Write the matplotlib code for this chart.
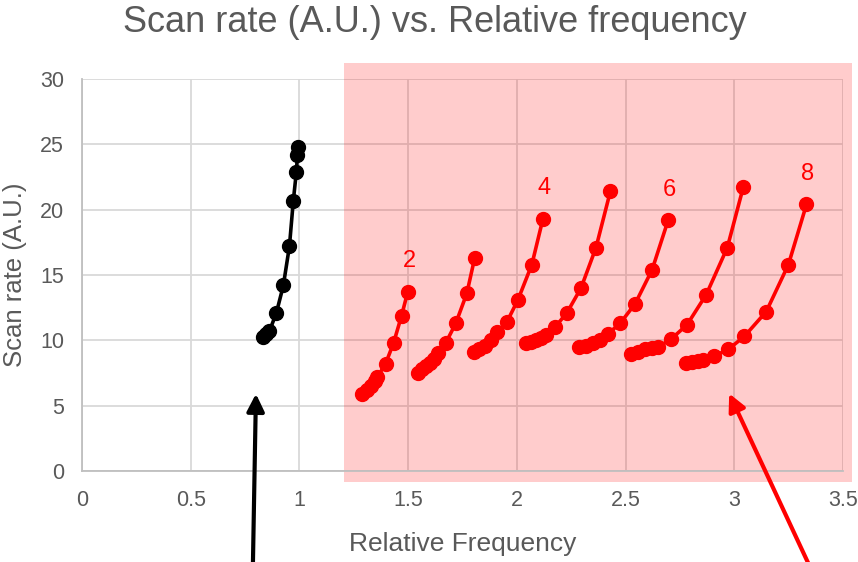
import numpy as np
from matplotlib import pyplot as plt
from matplotlib.patches import Rectangle

# fundamental (black)
f1 = [0.834, 0.848, 0.862, 0.894, 0.926, 0.954, 0.972, 0.986, 0.991, 0.993]
s1 = [10.25, 10.5, 10.7, 12.1, 14.2, 17.2, 20.7, 22.9, 24.2, 24.8]

# harmonics 2..8 (red)
f2 = [1.290, 1.309, 1.327, 1.346, 1.359, 1.396, 1.433, 1.470, 1.498]
s2 = [5.9, 6.2, 6.5, 6.9, 7.2, 8.2, 9.8, 11.9, 13.7]
f3 = [1.544, 1.562, 1.581, 1.599, 1.618, 1.636, 1.673, 1.719, 1.770, 1.806]
s3 = [7.5, 7.8, 8.0, 8.3, 8.6, 9.0, 9.8, 11.3, 13.6, 16.3]
f4 = [1.802, 1.825, 1.852, 1.880, 1.908, 1.954, 2.005, 2.069, 2.120]
s4 = [9.1, 9.3, 9.6, 10.0, 10.6, 11.4, 13.1, 15.8, 19.3]
f5 = [2.041, 2.065, 2.088, 2.111, 2.134, 2.175, 2.230, 2.295, 2.364, 2.430]
s5 = [9.8, 9.9, 10.0, 10.2, 10.4, 11.0, 12.1, 14.0, 17.1, 21.4]
f6 = [2.286, 2.318, 2.350, 2.382, 2.419, 2.475, 2.544, 2.622, 2.696]
s6 = [9.5, 9.6, 9.8, 10.0, 10.5, 11.3, 12.8, 15.4, 19.2]
f7 = [2.525, 2.558, 2.590, 2.622, 2.650, 2.710, 2.783, 2.871, 2.968, 3.041]
s7 = [8.95, 9.1, 9.3, 9.4, 9.5, 10.1, 11.2, 13.5, 17.1, 21.7]
f8 = [2.779, 2.806, 2.834, 2.857, 2.908, 2.972, 3.046, 3.147, 3.249, 3.332]
s8 = [8.3, 8.35, 8.4, 8.5, 8.8, 9.3, 10.3, 12.2, 15.8, 20.4]

red_f = [f2, f3, f4, f5, f6, f7, f8]
red_s = [s2, s3, s4, s5, s6, s7, s8]
harmonic = [2, 3, 4, 5, 6, 7, 8]
labelled = [2, 4, 6, 8]

grey = '#595959'
plt.rcParams['font.family'] = ['Liberation Sans', 'DejaVu Sans']

fig = plt.figure(figsize=(8.58, 5.62), dpi=100)
ax = fig.add_axes([82/858, 1-471/562, (843-82)/858, (471-79)/562])

ax.set_xlim(0, 3.5)
ax.set_ylim(0, 30)
ax.set_xticks(np.arange(0, 3.51, 0.5))
ax.set_xticklabels(['0', '0.5', '1', '1.5', '2', '2.5', '3', '3.5'])
ax.set_yticks(range(0, 31, 5))
ax.grid(True, color='#d9d9d9', linewidth=1.3, zorder=0)
ax.set_axisbelow(True)
for s in ['top', 'right']:
    ax.spines[s].set_visible(False)
for s in ['left', 'bottom']:
    ax.spines[s].set_color('#bfbfbf')
    ax.spines[s].set_linewidth(1.3)
ax.tick_params(length=0, labelsize=15.5, colors=grey)
ax.tick_params(axis='x', pad=14)
ax.tick_params(axis='y', pad=13)

# shaded harmonic region (extends past plot area)
ax.add_patch(Rectangle((1.207, -0.85), 3.54-1.207, 31.2+0.85, facecolor='red',
                       alpha=0.2, edgecolor='none', clip_on=False, zorder=1))

ax.plot(f1, s1, '-o', color='black', lw=2.6, ms=10, zorder=3, clip_on=False)
for f, s, n in zip(red_f, red_s, harmonic):
    ax.plot(f, s, '-o', color='red', lw=2.6, ms=10, zorder=3)
    if n in labelled:
        ax.annotate(str(n), (f[-1], s[-1]), xytext=(1, 22), textcoords='offset points',
                    ha='center', va='center', color='red', fontsize=17)

ax.set_xlabel('Relative Frequency', fontsize=19, color=grey, labelpad=15)
ax.set_ylabel('Scan rate (A.U.)', fontsize=18.5, color=grey, labelpad=9)
fig.text(0.507, 1-23/562, 'Scan rate (A.U.) vs. Relative frequency',
         ha='center', va='center', fontsize=26, color=grey)

# arrows from below the figure
ax.annotate('', xy=(256, 562-391), xycoords='figure pixels',
            xytext=(252.6, -20), textcoords='figure pixels', annotation_clip=False,
            arrowprops=dict(arrowstyle='-|>', color='black', lw=3, mutation_scale=26))
ax.annotate('', xy=(728, 562-391), xycoords='figure pixels',
            xytext=(817, -20), textcoords='figure pixels', annotation_clip=False,
            arrowprops=dict(arrowstyle='-|>', color='red', lw=3, mutation_scale=26))

fig.savefig('out.png', dpi=100)
